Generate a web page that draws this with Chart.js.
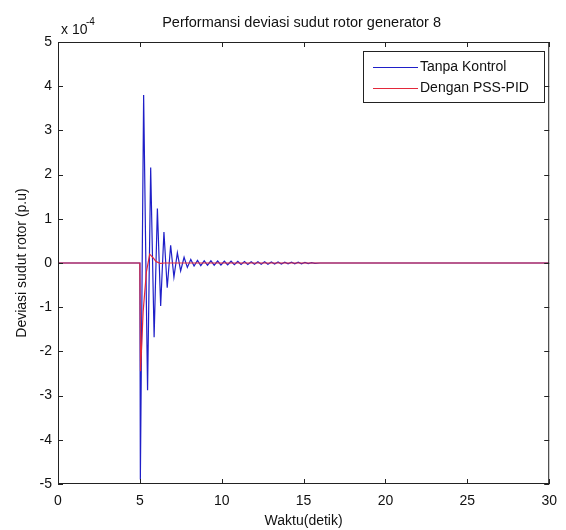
<!DOCTYPE html>
<html>
<head>
<meta charset="utf-8">
<script src="https://cdn.jsdelivr.net/npm/chart.js@4"></script>
<style>
  body { margin: 0; background: #fff; }
  #wrap { width: 566px; height: 530px; }
</style>
</head>
<body>
<div id="wrap"><canvas id="rotor" width="566" height="530"></canvas></div>
<script>
Chart.defaults.font.family = "'Liberation Sans', Arial, sans-serif";
Chart.defaults.font.size = 14;
Chart.defaults.color = '#111';

// data (values in units of 1e-4 p.u.)
const tanpaTime = [
  0, 5.0, 5.03, 5.23, 5.47, 5.66, 5.87, 6.07, 6.27, 6.47,
  6.67, 6.88, 7.08, 7.29, 7.49, 7.70, 7.90, 8.11, 8.31, 8.52,
  8.72, 8.93, 9.13, 9.34, 9.54, 9.75, 9.95, 10.16, 10.36, 10.57,
  10.77, 10.98, 11.18, 11.39, 11.59, 11.80, 12.00, 12.21, 12.41, 12.62,
  12.82, 13.03, 13.23, 13.44, 13.64, 13.85, 14.05, 14.26, 14.46, 14.67,
  14.87, 15.08, 15.28, 15.49, 15.69, 16.0, 30
];
const tanpaVals = [
  0, 0, -4.9, 3.8, -2.88, 2.16, -1.68, 1.23, -0.97, 0.70,
  -0.56, 0.40, -0.32, 0.23, -0.18, 0.13, -0.10, 0.08, -0.07, 0.06,
  -0.06, 0.05, -0.05, 0.05, -0.05, 0.045, -0.045, 0.04, -0.04, 0.04,
  -0.04, 0.035, -0.035, 0.035, -0.035, 0.03, -0.03, 0.03, -0.03, 0.03,
  -0.03, 0.025, -0.025, 0.025, -0.025, 0.02, -0.02, 0.02, -0.02, 0.02,
  -0.02, 0.015, -0.015, 0.01, -0.01, 0, 0
];
const pidTime = [0, 5.0, 5.04, 5.2, 5.4, 5.6, 5.8, 6.0, 6.25, 6.5, 30];
const pidVals = [0, 0, -2.45, -1.1, -0.2, 0.2, 0.12, 0.03, -0.01, 0, 0];

const seriesNames = ['Tanpa Kontrol', 'Dengan PSS-PID'];
const seriesColors = ['#1f1fc8', '#e3283a'];
const xTicks = [0, 5, 10, 15, 20, 25, 30];
const yTicks = [-5, -4, -3, -2, -1, 0, 1, 2, 3, 4, 5];
const chartTitle = 'Performansi deviasi sudut rotor generator 8';

function pts(t, v) { return t.map((x, i) => ({x: x, y: v[i]})); }

// matlab-like box, inward ticks, title, exponent label and legend
const matlabFrame = {
  id: 'matlabFrame',
  afterDatasetsDraw(chart) {
    const {ctx, chartArea: a, scales: {x, y}} = chart;
    ctx.save();
    ctx.strokeStyle = '#222';
    ctx.lineWidth = 1;
    ctx.strokeRect(a.left + 0.5, a.top + 0.5, a.right - a.left - 1, a.bottom - a.top - 1);
    ctx.beginPath();
    xTicks.forEach(v => {
      const px = Math.round(x.getPixelForValue(v)) + 0.5;
      ctx.moveTo(px, a.bottom); ctx.lineTo(px, a.bottom - 5);
      ctx.moveTo(px, a.top); ctx.lineTo(px, a.top + 5);
    });
    yTicks.forEach(v => {
      const py = Math.round(y.getPixelForValue(v)) + 0.5;
      ctx.moveTo(a.left, py); ctx.lineTo(a.left + 5, py);
      ctx.moveTo(a.right, py); ctx.lineTo(a.right - 5, py);
    });
    ctx.stroke();

    // title
    ctx.fillStyle = '#111';
    ctx.textBaseline = 'alphabetic';
    ctx.textAlign = 'center';
    ctx.font = "14.5px 'Liberation Sans', Arial, sans-serif";
    ctx.fillText(chartTitle, (a.left + a.right) / 2 - 2, 27);

    // exponent
    ctx.textAlign = 'left';
    ctx.font = "14px 'Liberation Sans', Arial, sans-serif";
    ctx.fillText('x 10', 61, 34);
    ctx.font = "10px 'Liberation Sans', Arial, sans-serif";
    ctx.fillText('-4', 86, 25);

    // legend
    const lx = 363, ly = 51, lw = 181, lh = 51;
    ctx.fillStyle = '#fff';
    ctx.fillRect(lx, ly, lw, lh);
    ctx.strokeStyle = '#222';
    ctx.strokeRect(lx + 0.5, ly + 0.5, lw, lh);
    ctx.font = "14px 'Liberation Sans', Arial, sans-serif";
    ctx.textBaseline = 'middle';
    chart.data.datasets.forEach((ds, i) => {
      const rowY = ly + 16 + i * 21 + 0.5;
      ctx.strokeStyle = ds.borderColor;
      ctx.lineWidth = 1.2;
      ctx.beginPath();
      ctx.moveTo(lx + 10, rowY); ctx.lineTo(lx + 55, rowY);
      ctx.stroke();
      ctx.fillStyle = '#111';
      ctx.fillText(ds.label, lx + 57, rowY);
    });
    ctx.restore();
  }
};

const config = {
  type: 'line',
  data: {
    datasets: [
      { label: seriesNames[0], data: pts(tanpaTime, tanpaVals), borderColor: seriesColors[0], order: 1 },
      { label: seriesNames[1], data: pts(pidTime, pidVals), borderColor: seriesColors[1], order: 0 }
    ]
  },
  options: {
    responsive: false,
    animation: false,
    elements: {
      point: { radius: 0 },
      line: { borderWidth: 1.2, tension: 0 }
    },
    layout: { padding: { top: 42, right: 12, left: 0, bottom: 0 } },
    plugins: {
      legend: { display: false },
      tooltip: { enabled: false },
      title: { display: false }
    },
    scales: {
      x: {
        type: 'linear',
        min: 0, max: 30,
        afterFit(s) { s.height = 46; },
        afterBuildTicks(s) { s.ticks = xTicks.map(v => ({value: v})); },
        grid: { display: false, drawTicks: false },
        border: { display: false },
        ticks: { padding: 9, maxRotation: 0, font: { size: 14 } },
        title: { display: true, text: 'Waktu(detik)', padding: { top: 0, bottom: 0 }, font: { size: 14 } }
      },
      y: {
        type: 'linear',
        min: -5, max: 5,
        afterFit(s) { s.width = 58; },
        afterBuildTicks(s) { s.ticks = yTicks.map(v => ({value: v})); },
        grid: { display: false, drawTicks: false },
        border: { display: false },
        ticks: { padding: 6, font: { size: 14 } },
        title: { display: true, text: 'Deviasi sudut rotor (p.u)', padding: { top: 14, bottom: 0 }, font: { size: 14 } }
      }
    }
  },
  plugins: [matlabFrame]
};

const rotorChart = new Chart(document.getElementById('rotor'), config);
</script>
</body>
</html>
